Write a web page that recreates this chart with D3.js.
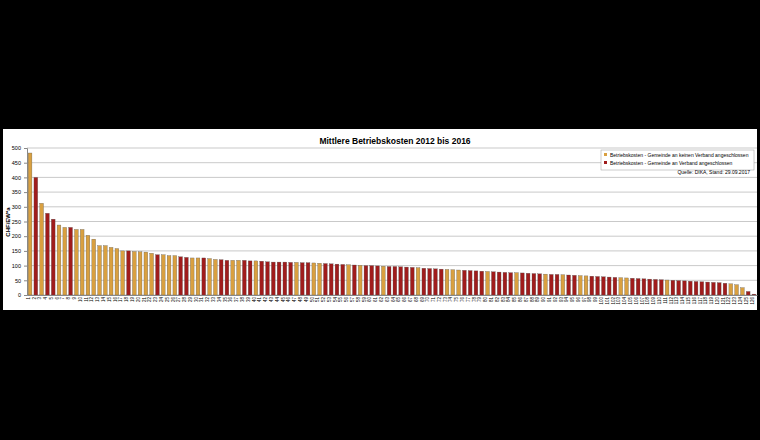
<!DOCTYPE html><html><head><meta charset="utf-8"><script src="https://cdn.jsdelivr.net/npm/d3@7"></script>
<style>body{margin:0;background:#000}svg{display:block}</style></head><body><script>
const values=[483,400,312,278,258,238,230,230,223,223,203,190,168,168,162,158,150,150,148,147,146,142,137,137,134,134,130,128,126,126,126,124,121,120,118,118,118,118,116,116,115,113,112,112,112,111,111,110,110,109,108,107,106,105,104,103,102,101,100,100,99,98,97,97,96,95,94,93,91,90,89,88,87,86,85,84,83,82,81,80,79,78,77,76,76,75,74,73,72,71,70,70,69,68,67,66,65,64,63,62,61,60,59,58,57,56,55,54,53,52,51,50,49,48,47,46,45,44,43,42,40,38,35,25,12,3];
const colorCodes="GRGRRGGRGGGGGGGGGRGGGGRGGGRRGGRGGRRGGRRGRRRRRRGRRGGRRRRGRGRRRGRRRRRGRRRRGGGRRRRGRRRRGRRRRGRRGRRGGRRRRRGGRRRRRRGRRRRRRRRRRGGGRR".split("");
const categories=values.map((d,i)=>String(i+1));
const yTicks=[0,50,100,150,200,250,300,350,400,450,500];
const legendLabels=["Betriebskosten - Gemeinde an keinen Verband angeschlossen","Betriebskosten - Gemeinde an Verband angeschlossen"];
const colors={G:"#d9a040",R:"#a01c1c"};
const W=760,H=440;
const svg=d3.select("body").append("svg").attr("width",W).attr("height",H).style("font-family","Liberation Sans, Arial");
svg.append("rect").attr("width",W).attr("height",H).attr("fill","#000");
svg.append("rect").attr("x",3).attr("y",129).attr("width",754).attr("height",181).attr("fill","#fff");
const x=d3.scaleBand().domain(categories).range([27,757]).paddingInner(0.35).paddingOuter(0.2);
const y=d3.scaleLinear().domain([0,500]).range([295,148]);
const g=svg.append("g");
g.selectAll("line.grid").data(yTicks).join("line").attr("x1",27).attr("x2",757).attr("y1",d=>y(d)).attr("y2",d=>y(d)).attr("stroke","#bbb").attr("stroke-width",0.8);
const ya=svg.append("g").attr("transform","translate(27,0)").call(d3.axisLeft(y).tickValues(yTicks).tickSize(3));
ya.selectAll("text").attr("font-size",5.5).attr("fill","#000");ya.select(".domain").attr("stroke","#888");ya.selectAll("line").attr("stroke","#888");
g.selectAll("rect.bar").data(values).join("rect").attr("x",(d,i)=>x(categories[i])).attr("width",x.bandwidth()).attr("y",d=>y(d)).attr("height",d=>y(0)-y(d)).attr("fill",(d,i)=>colors[colorCodes[i]||"R"]).attr("stroke","#555").attr("stroke-width",0.3);
const xa=svg.append("g").attr("transform","translate(0,295)").call(d3.axisBottom(x).tickSize(0));
xa.select(".domain").attr("stroke","#888");
xa.selectAll("text").attr("font-size",4.5).attr("transform","rotate(-90)").attr("text-anchor","end").attr("dx","-2").attr("dy","-1.5").attr("x",0).attr("y",0).style("dominant-baseline","middle");
svg.append("text").attr("x",10).attr("y",222).attr("transform","rotate(-90,10,222)").attr("text-anchor","middle").attr("font-size",6).attr("font-weight","bold").text("CHF/EW*a");
svg.append("text").attr("x",395).attr("y",144).attr("text-anchor","middle").attr("font-size",8.5).attr("font-weight","bold").text("Mittlere Betriebskosten 2012 bis 2016");
const lg=svg.append("g");
lg.append("rect").attr("x",601).attr("y",150).attr("width",153).attr("height",20).attr("fill","#fff").attr("stroke","#999").attr("stroke-width",0.5);
legendLabels.forEach((t,i)=>{lg.append("rect").attr("x",604).attr("y",153+i*8).attr("width",3).attr("height",3).attr("fill",colors[i?"R":"G"]);
lg.append("text").attr("x",610).attr("y",156.5+i*8).attr("font-size",5).text(t);});
svg.append("text").attr("x",750).attr("y",174).attr("text-anchor","end").attr("font-size",5).text("Quelle: DIKA, Stand: 29.09.2017");
</script></body></html>
